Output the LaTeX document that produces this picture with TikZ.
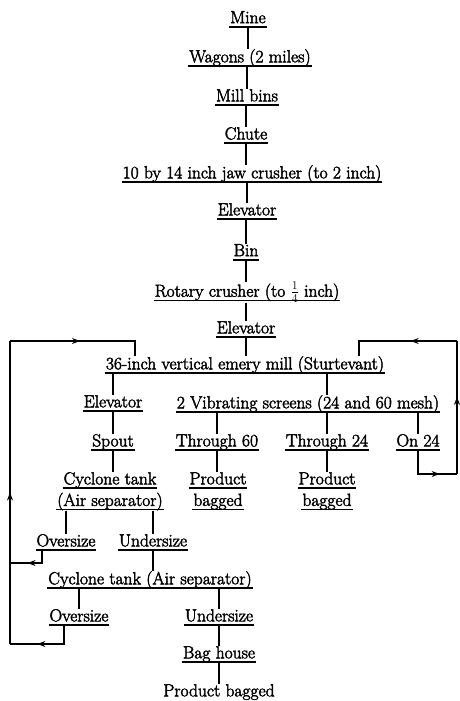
\documentclass[tikz,border=0pt]{standalone}
\usepackage{fontspec}
\usetikzlibrary{arrows.meta,decorations.markings}

\newfontfamily\flowfont{Latin Modern Roman}[FakeBold=2.5]
\newcommand{\ubar}[1]{\setbox0=\hbox{#1}\rlap{\kern-1pt\rule[-4.5pt]{\dimexpr\wd0+2pt\relax}{1.5pt}}\box0}

\tikzset{
  stage/.style={inner sep=0pt,anchor=north,align=center,font=\flowfont\fontsize{17.5}{21.5}\selectfont},
  link/.style={line width=1.3pt},
  flowarrow/.style={postaction={decorate},decoration={markings,mark=at position #1 with {\arrow{Stealth[length=8pt,width=6pt]}}}}
}

\begin{document}
\begin{tikzpicture}[x=1pt,y=-1pt]
\useasboundingbox (0,0) rectangle (459,701);

\node[stage] (mine) at (248,11) {\ubar{Mine}};
\node[stage] (wagons) at (250,49) {\ubar{Wagons (2 miles)}};
\node[stage] (bins) at (247,89) {\ubar{Mill bins}};
\node[stage] (chute) at (246,127) {\ubar{Chute}};
\node[stage] (jaw) at (252,165) {\ubar{10 by 14 inch jaw crusher (to 2 inch)}};
\node[stage] (elevA) at (247,203) {\ubar{Elevator}};
\node[stage] (bin) at (246,244) {\ubar{Bin}};
\node[stage] (rotary) at (247,282) {\ubar{Rotary crusher (to $\frac14$ inch)}};
\node[stage] (elevB) at (246,321) {\ubar{Elevator}};
\node[stage] (mill) at (245,356) {\ubar{36-inch vertical emery mill (Sturtevant)}};
\node[stage] (elevL) at (113,395) {\ubar{Elevator}};
\node[stage] (screens) at (308,395) {\ubar{2 Vibrating screens (24 and 60 mesh)}};
\node[stage] (spout) at (113,434) {\ubar{Spout}};
\node[stage] (thr60) at (217,434) {\ubar{Through 60}};
\node[stage] (thr24) at (327,434) {\ubar{Through 24}};
\node[stage] (on24) at (418,434) {\ubar{On 24}};
\node[stage] (cycA) at (110,472) {\ubar{Cyclone tank}\\\ubar{(Air separator)}};
\node[stage] (prod60) at (218,472) {\ubar{Product}\\\ubar{bagged}};
\node[stage] (prod24) at (327,472) {\ubar{Product}\\\ubar{bagged}};
\node[stage] (ovsA) at (66,534) {\ubar{Oversize}};
\node[stage] (undA) at (153,534) {\ubar{Undersize}};
\node[stage] (cycB) at (150,571) {\ubar{Cyclone tank (Air separator)}};
\node[stage] (ovsB) at (79,609) {\ubar{Oversize}};
\node[stage] (undB) at (219,609) {\ubar{Undersize}};
\node[stage] (bag) at (219,646) {\ubar{Bag house}};
\node[stage] (prod) at (219,684) {Product bagged};

\draw[link] (mine.south) -- (mine.south |- wagons.north);
\draw[link] (bins.north |- wagons.south) -- (bins.north);
\draw[link] (chute.north |- bins.south) -- (chute.north);
\draw[link] (chute.south) -- (chute.south |- jaw.north);
\draw[link] (elevA.north |- jaw.south) -- (elevA.north);
\draw[link] (bin.north |- elevA.south) -- (bin.north);
\draw[link] (bin.south) -- (bin.south |- rotary.north);
\draw[link] (elevB.north |- rotary.south) -- (elevB.north);
\draw[link] (elevB.south) -- (elevB.south |- mill.north);

\draw[link] (elevL.north |- mill.south) -- (elevL.north);
\draw[link] (thr24.north |- mill.south) -- (thr24.north |- screens.north);
\draw[link] (elevL.south) -- (spout.north);
\draw[link] (spout.south) -- (spout.south |- cycA.north);
\draw[link] (thr60.north |- screens.south) -- (thr60.north);
\draw[link] (thr24.north |- screens.south) -- (thr24.north);
\draw[link] (on24.north |- screens.south) -- (on24.north);
\draw[link] (thr60.south) -- (thr60.south |- prod60.north);
\draw[link] (thr24.south) -- (prod24.north);

\draw[link] (ovsA.north |- cycA.south) -- (ovsA.north);
\draw[link] (undA.north |- cycA.south) -- (undA.north);
\draw[link] (undA.south) -- (undA.south |- cycB.north);
\draw[link] (ovsB.north |- cycB.south) -- (ovsB.north);
\draw[link] (undB.north |- cycB.south) -- (undB.north);
\draw[link] (undB.south) -- (bag.north);
\draw[link] (bag.south) -- (prod.north);

\coordinate (retA) at (10,563);
\coordinate (retB) at (10,644);
\coordinate (topL) at (10,341);
\coordinate (retR) at (457,474);
\coordinate (topR) at (457,341);

\draw[link,flowarrow=0.6] ([xshift=-24pt]ovsA.south) |- (retA);
\draw[link,flowarrow=0.62] ([xshift=-15pt]ovsB.south) |- (retB);
\draw[link,flowarrow=0.5] (retB) -- (topL);
\draw[link,flowarrow=0.5] (topL) -| ([xshift=-110pt]mill.north);
\draw[link,flowarrow=0.72] (on24.south) |- (retR);
\draw[link,flowarrow=0.58] (retR) -- (topR);
\draw[link,flowarrow=0.41] (topR) -| ([xshift=114pt]mill.north);
\end{tikzpicture}
\end{document}
